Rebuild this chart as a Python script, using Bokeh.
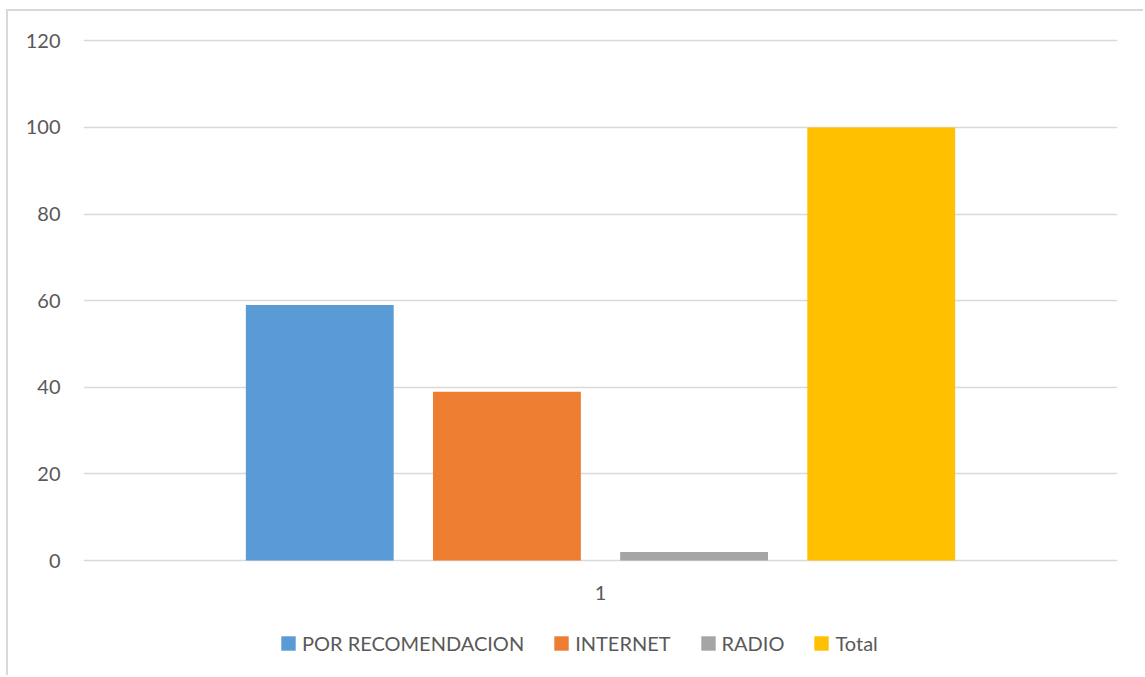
from bokeh.plotting import figure
from bokeh.models import ColumnDataSource, Legend, LegendItem, FixedTicker, Range1d
from bokeh.core.properties import value
from bokeh.embed import file_html
from bokeh.resources import INLINE

series = ["POR RECOMENDACION", "INTERNET", "RADIO", "Total"]
values = [59, 39, 2, 100]
colors = ["#5B9BD5", "#ED7D31", "#A5A5A5", "#FFC000"]
category = "1"
y_ticks = [0, 20, 40, 60, 80, 100, 120]

FONT = "Lato"
TXT = "#595959"
GRID = "#d9d9d9"

# frame extends below the value axis so that the category label and legend sit inside it
p = figure(frame_width=1034, frame_height=641, output_backend="svg", toolbar_location=None,
           x_range=Range1d(0, 1), y_range=Range1d(-27, 121),
           min_border_left=75, min_border_right=28, min_border_top=25, min_border_bottom=0)
p.margin = (11, 0, 0, 8)
p.styles = {"box-shadow": "-2px -2px 0 0 #d9d9d9"}

step = 0.181
bw = 0.143
items = []
for i, (s, v, c) in enumerate(zip(series, values, colors)):
    src = ColumnDataSource(dict(x=[0.5 + (i - 1.5) * step], top=[v]))
    r = p.vbar(x="x", top="top", bottom=0, width=bw, color=c, line_color=None, source=src)
    items.append(LegendItem(label=s, renderers=[r]))

# category label under the bars
p.text(x=[0.5], y=[-7.4], text=[category], text_align="center", text_baseline="middle",
       text_font_size="20px", text_color=TXT, text_font=value(FONT))

p.xaxis.visible = False
p.yaxis.ticker = FixedTicker(ticks=y_ticks)
ax = p.yaxis[0]
ax.axis_line_color = None
ax.major_tick_line_color = None
ax.minor_tick_line_color = None
ax.major_label_text_font = FONT
ax.major_label_text_font_size = "20px"
ax.major_label_text_color = TXT
ax.major_label_standoff = 17

p.xgrid.grid_line_color = None
p.ygrid.ticker = FixedTicker(ticks=y_ticks)
p.ygrid.grid_line_color = GRID
p.ygrid.grid_line_width = 1.5
p.outline_line_color = None

legend = Legend(items=items, orientation="horizontal", location=(196, 22),
                label_text_font=FONT, label_text_font_size="20px", label_text_color=TXT,
                glyph_width=18, glyph_height=18, spacing=28, label_standoff=5,
                border_line_color=None, background_fill_alpha=0, margin=0, padding=0)
p.add_layout(legend)

open("out.html", "w").write(file_html(p, INLINE))
